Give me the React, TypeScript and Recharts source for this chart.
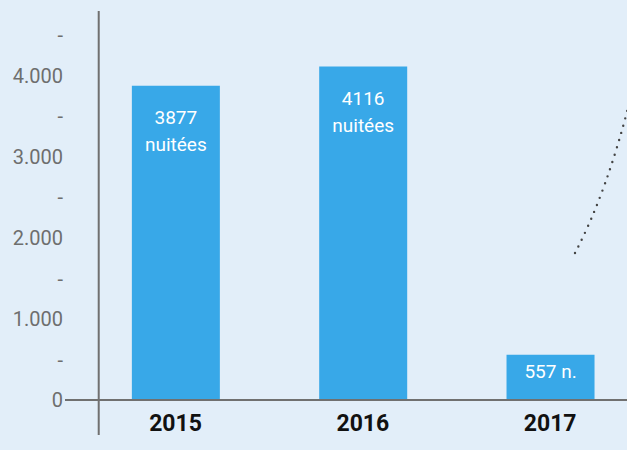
import React from "react";
import {
  BarChart,
  Bar,
  XAxis,
  YAxis,
  LabelList,
  ReferenceLine,
} from "recharts";

const years = [2015, 2016, 2017];
const nights = [3877, 4116, 557];
const barLabels = [["3877", "nuitées"], ["4116", "nuitées"], ["557 n."]];
const yTicks = [0, 500, 1000, 1500, 2000, 2500, 3000, 3500, 4000, 4500];

const data = years.map((year, i) => ({
  year,
  nights: nights[i],
  label: barLabels[i],
}));

const AXIS_GREY = "#707070";
const BAR_BLUE = "#38a8e8";
const FONT = "Roboto, 'Noto Sans', sans-serif";

function formatY(v: number) {
  if (v % 1000 !== 0) return "-";
  return v === 0 ? "0" : `${v / 1000}.000`;
}

function BarText(props: any) {
  const { x, y, width, index } = props;
  const lines = barLabels[index] || [];
  const cx = x + width / 2;
  const first = lines.length > 1 ? 32 : 17;
  return (
    <g>
      {lines.map((line, i) => (
        <text
          key={line}
          x={cx}
          y={y + first + i * 27}
          textAnchor="middle"
          dominantBaseline="central"
          fill="#ffffff"
          fontSize={19}
          fontFamily={FONT}
        >
          {line}
        </text>
      ))}
    </g>
  );
}

export default function App() {
  return (
    <div
      style={{
        position: "fixed",
        left: 0,
        top: 0,
        width: 627,
        height: 450,
        background: "#e2eef9",
        overflow: "hidden",
      }}
    >
      <BarChart
        width={627}
        height={450}
        data={data}
        margin={{ top: 11, right: 0, left: 0, bottom: 20 }}
      >
        <XAxis
          dataKey="year"
          type="number"
          domain={[2014.41, 2017.41]}
          allowDataOverflow
          ticks={years}
          interval={0}
          height={30}
          tickSize={0}
          tickMargin={15}
          tickLine={false}
          axisLine={{ stroke: AXIS_GREY, strokeWidth: 2 }}
          tick={{ fill: "#111", fontSize: 23, fontWeight: 700, fontFamily: FONT }}
        />
        <YAxis
          type="number"
          domain={[0, 4800]}
          allowDataOverflow
          ticks={yTicks}
          interval={0}
          width={65}
          tickSize={0}
          tickMargin={2}
          tickLine={false}
          axisLine={false}
          tickFormatter={formatY}
          tick={{ fill: "#6e6e6e", fontSize: 20, fontFamily: FONT }}
        />
        <ReferenceLine
          segment={[
            { x: 2014.59, y: -432 },
            { x: 2014.59, y: 4800 },
          ]}
          ifOverflow="visible"
          stroke={AXIS_GREY}
          strokeWidth={2}
        />
        <Bar dataKey="nights" fill={BAR_BLUE} barSize={88} isAnimationActive={false}>
          <LabelList dataKey="nights" content={BarText} />
        </Bar>
      </BarChart>
      <svg
        width={627}
        height={450}
        style={{ position: "absolute", left: 0, top: 0, pointerEvents: "none" }}
      >
        <path
          d="M575 253 Q607 192 630 100"
          fill="none"
          stroke="#444"
          strokeWidth={2.4}
          strokeLinecap="round"
          strokeDasharray="0 7.6"
        />
      </svg>
    </div>
  );
}
